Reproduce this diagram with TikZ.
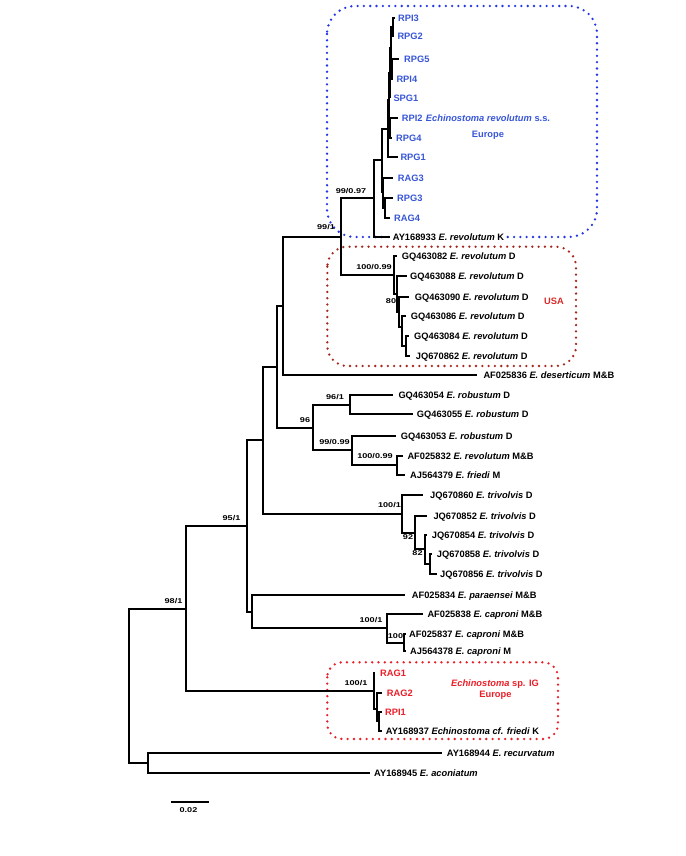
\documentclass[tikz,border=0pt]{standalone}
\usepackage{fontspec}
\setmainfont{Liberation Sans}
\definecolor{eurblue}{RGB}{55,85,215}
\definecolor{boxblue}{RGB}{35,55,230}
\definecolor{usabox}{RGB}{165,40,30}
\definecolor{usatext}{RGB}{215,40,40}
\definecolor{igred}{RGB}{235,30,40}
\newcommand\bsv[1]{\scalebox{1.3}[1]{#1}}
\newcommand\lffont{\fontsize{9.3}{11}\selectfont\bfseries}
\newcommand\bsfont{\fontsize{7}{8}\selectfont\bfseries}
\begin{document}
\begin{tikzpicture}[x=1pt,y=-1pt,
  br/.style={line width=2pt, line join=miter},
  leaf/.style={anchor=base west, inner sep=0pt, yshift=-3.3pt, font=\lffont},
  bs/.style={anchor=base, inner sep=0pt, yshift=-2.4pt, font=\bsfont},
  dotbox/.style={line width=2.6pt, dash pattern=on 0pt off 6.3pt, line cap=round},
  boxtxt/.style={anchor=base, inner sep=0pt, yshift=-3.3pt, font=\lffont}]
\useasboundingbox (0,0) rectangle (685,856);
% ---------- boxes
\draw[dotbox, boxblue, rounded corners=28pt] (327,6) rectangle (597,237) ;
\draw[dotbox, usabox, rounded corners=20pt] (327.3,246.7) rectangle (576,366);
\draw[dotbox, igred, rounded corners=15pt] (327.3,662.3) rectangle (558,739);
\node[boxtxt, eurblue] (tEur) at (488,118.3) {\textit{Echinostoma revolutum} s.s.};
\node[boxtxt, eurblue] (tEur2) at (488,134.3) {Europe};
\node[boxtxt, usatext] (tUSA) at (554,301) {USA};
\node[boxtxt, igred] (tIG) at (495,683.3) {\textit{Echinostoma} sp. IG};
\node[boxtxt, igred] (tIG2) at (495.5,694.3) {Europe};
% ---------- internal nodes
\coordinate (r) at (129,686);
\coordinate (O1) at (148,763);
\coordinate (M5) at (186,609);
\coordinate (I1) at (374,691);
\coordinate (I2) at (377,709);
\coordinate (I3) at (379,721);
\coordinate (M4) at (247,526);
\coordinate (P1) at (252,612);
\coordinate (P2) at (387,628);
\coordinate (P3) at (404,643);
\coordinate (M3) at (263,440);
\coordinate (T1) at (402,514);
\coordinate (T2) at (415,533);
\coordinate (T3) at (425,549);
\coordinate (T4) at (430,564);
\coordinate (M2) at (277,367);
\coordinate (M1) at (283,306);
\coordinate (R0) at (313,428);
\coordinate (R1) at (350,405);
\coordinate (R2) at (352,450);
\coordinate (R3) at (397,465);
\coordinate (N0) at (341,237);
\coordinate (N1) at (374,198);
\coordinate (E1) at (382,160);
\coordinate (ng) at (388,129);
\coordinate (nf) at (389,100);
\coordinate (nd) at (390,73);
\coordinate (nc) at (391,48);
\coordinate (nb) at (393,27);
\coordinate (ny) at (392,69);
\coordinate (ne) at (390,128);
\coordinate (nh) at (383,192);
\coordinate (ni) at (385,208);
\coordinate (U1) at (394,275);
\coordinate (U2) at (397,294);
\coordinate (U3) at (399,312);
\coordinate (U4) at (402,327);
\coordinate (U5) at (406,346);
% ---------- tips
\coordinate (cRPI3) at (395,18);
\coordinate (cRPG2) at (394,36);
\coordinate (cRPG5) at (399,59);
\coordinate (cRPI4) at (393,79);
\coordinate (cSPG1) at (390,98);
\coordinate (cRPI2) at (398,118);
\coordinate (cRPG4) at (392,138);
\coordinate (cRPG1) at (398,157);
\coordinate (cRAG3) at (393,178);
\coordinate (cRPG3) at (393,198);
\coordinate (cRAG4) at (390,218);
\coordinate (cAY933) at (390,237);
\coordinate (cGQ082) at (397,256);
\coordinate (cGQ088) at (407,276);
\coordinate (cGQ090) at (409,297);
\coordinate (cGQ086) at (406,316);
\coordinate (cGQ084) at (409,336);
\coordinate (cJQ862) at (410,356);
\coordinate (cAF836) at (477,375);
\coordinate (cGQ054) at (393,395);
\coordinate (cGQ055) at (413,414);
\coordinate (cGQ053) at (396,436);
\coordinate (cAF832) at (403,456);
\coordinate (cAJ379) at (405,475);
\coordinate (cJQ860) at (423,495);
\coordinate (cJQ852) at (427,516);
\coordinate (cJQ854) at (427,535);
\coordinate (cJQ858) at (432,554);
\coordinate (cJQ856) at (437,574);
\coordinate (cAF834) at (405,595);
\coordinate (cAF838) at (423,614);
\coordinate (cAF837) at (406,634);
\coordinate (cAJ378) at (406,651);
\coordinate (cRAG1) at (375,673);
\coordinate (cRAG2) at (382,693);
\coordinate (cRPI1) at (382,712);
\coordinate (cAY937) at (382,731);
\coordinate (cAY944) at (442,753);
\coordinate (cAY945) at (370,773);
% ---------- branches
\draw[br] (r) |- (M5); \draw[br] (r) |- (O1);
\draw[br] (O1) |- (cAY944); \draw[br] (O1) |- (cAY945);
\draw[br] (M5) |- (M4); \draw[br] (M5) |- (I1);
\draw[br] (I1) |- (cRAG1); \draw[br] (I1) |- (I2);
\draw[br] (I2) |- (cRAG2); \draw[br] (I2) |- (I3);
\draw[br] (I3) |- (cRPI1); \draw[br] (I3) |- (cAY937);
\draw[br] (M4) |- (M3); \draw[br] (M4) |- (P1);
\draw[br] (P1) |- (cAF834); \draw[br] (P1) |- (P2);
\draw[br] (P2) |- (cAF838); \draw[br] (P2) |- (P3);
\draw[br] (P3) |- (cAF837); \draw[br] (P3) |- (cAJ378);
\draw[br] (M3) |- (M2); \draw[br] (M3) |- (T1);
\draw[br] (T1) |- (cJQ860); \draw[br] (T1) |- (T2);
\draw[br] (T2) |- (cJQ852); \draw[br] (T2) |- (T3);
\draw[br] (T3) |- (cJQ854); \draw[br] (T3) |- (T4);
\draw[br] (T4) |- (cJQ858); \draw[br] (T4) |- (cJQ856);
\draw[br] (M2) |- (M1); \draw[br] (M2) |- (R0);
\draw[br] (R0) |- (R1); \draw[br] (R0) |- (R2);
\draw[br] (R1) |- (cGQ054); \draw[br] (R1) |- (cGQ055);
\draw[br] (R2) |- (cGQ053); \draw[br] (R2) |- (R3);
\draw[br] (R3) |- (cAF832); \draw[br] (R3) |- (cAJ379);
\draw[br] (M1) |- (N0); \draw[br] (M1) |- (cAF836);
\draw[br] (N0) |- (N1); \draw[br] (N0) |- (U1);
\draw[br] (U1) |- (cGQ082); \draw[br] (U1) |- (U2);
\draw[br] (U2) |- (cGQ088); \draw[br] (U2) |- (U3);
\draw[br] (U3) |- (cGQ090); \draw[br] (U3) |- (U4);
\draw[br] (U4) |- (cGQ086); \draw[br] (U4) |- (U5);
\draw[br] (U5) |- (cGQ084); \draw[br] (U5) |- (cJQ862);
\draw[br] (N1) |- (E1); \draw[br] (N1) |- (cAY933);
\draw[br] (E1) |- (ng); \draw[br] (E1) |- (nh);
\draw[br] (ng) |- (nf); \draw[br] (ng) |- (cRPG1);
\draw[br] (nf) |- (nd); \draw[br] (nf) |- (ne);
\draw[br] (nd) |- (nc); \draw[br] (nd) |- (cSPG1);
\draw[br] (nc) |- (nb); \draw[br] (nc) |- (ny);
\draw[br] (nb) |- (cRPI3); \draw[br] (nb) |- (cRPG2);
\draw[br] (ny) |- (cRPG5); \draw[br] (ny) |- (cRPI4);
\draw[br] (ne) |- (cRPI2); \draw[br] (ne) |- (cRPG4);
\draw[br] (nh) |- (cRAG3); \draw[br] (nh) |- (ni);
\draw[br] (ni) |- (cRPG3); \draw[br] (ni) |- (cRAG4);
% ---------- leaf labels
\begin{scope}[every node/.append style={leaf}]
\node[eurblue] (lRPI3) at (398,18) {RPI3};
\node[eurblue] (lRPG2) at (397.3,36) {RPG2};
\node[eurblue] (lRPG5) at (404,59) {RPG5};
\node[eurblue] (lRPI4) at (396.3,79) {RPI4};
\node[eurblue] (lSPG1) at (393.3,98) {SPG1};
\node[eurblue] (lRPI2) at (401.7,118) {RPI2};
\node[eurblue] (lRPG4) at (396,138) {RPG4};
\node[eurblue] (lRPG1) at (400.3,157) {RPG1};
\node[eurblue] (lRAG3) at (397.7,178) {RAG3};
\node[eurblue] (lRPG3) at (397,198) {RPG3};
\node[eurblue] (lRAG4) at (394,218) {RAG4};
\node[fill=white] (lAY933) at (392.7,237) {AY168933 \textit{E. revolutum} K};
\node (lGQ082) at (401.7,256) {GQ463082 \textit{E. revolutum} D};
\node (lGQ088) at (410,276) {GQ463088 \textit{E. revolutum} D};
\node (lGQ090) at (414.7,297) {GQ463090 \textit{E. revolutum} D};
\node (lGQ086) at (410.7,316) {GQ463086 \textit{E. revolutum} D};
\node (lGQ084) at (414,336) {GQ463084 \textit{E. revolutum} D};
\node (lJQ862) at (415.7,356) {JQ670862 \textit{E. revolutum} D};
\node (lAF836) at (483.3,375) {AF025836 \textit{E. deserticum} M\&B};
\node (lGQ054) at (398.3,395) {GQ463054 \textit{E. robustum} D};
\node (lGQ055) at (416.7,414) {GQ463055 \textit{E. robustum} D};
\node (lGQ053) at (400.7,436) {GQ463053 \textit{E. robustum} D};
\node (lAF832) at (407.3,456) {AF025832 \textit{E. revolutum} M\&B};
\node (lAJ379) at (410,475) {AJ564379 \textit{E. friedi} M};
\node (lJQ860) at (430,495) {JQ670860 \textit{E. trivolvis} D};
\node (lJQ852) at (433.3,516) {JQ670852 \textit{E. trivolvis} D};
\node (lJQ854) at (431.7,535) {JQ670854 \textit{E. trivolvis} D};
\node (lJQ858) at (436.7,554) {JQ670858 \textit{E. trivolvis} D};
\node (lJQ856) at (440,574) {JQ670856 \textit{E. trivolvis} D};
\node (lAF834) at (411.7,595) {AF025834 \textit{E. paraensei} M\&B};
\node (lAF838) at (427.3,614) {AF025838 \textit{E. caproni} M\&B};
\node (lAF837) at (409,634) {AF025837 \textit{E. caproni} M\&B};
\node (lAJ378) at (410,651) {AJ564378 \textit{E. caproni} M};
\node[igred] (lRAG1) at (380,673) {RAG1};
\node[igred] (lRAG2) at (386.7,693) {RAG2};
\node[igred] (lRPI1) at (385,712) {RPI1};
\node (lAY937) at (385.7,731) {AY168937 \textit{Echinostoma cf. friedi} K};
\node (lAY944) at (446.7,753) {AY168944 \textit{E. recurvatum}};
\node (lAY945) at (374,773) {AY168945 \textit{E. aconiatum}};
\end{scope}
% ---------- support values
\begin{scope}[every node/.append style={bs}]
\node (bN0) at (326,227.3) {\bsv{99/1}};
\node (bN1) at (351,190.7) {\bsv{99/0.97}};
\node (bU1) at (374,266.7) {\bsv{100/0.99}};
\node (bU3) at (391,301) {\bsv{80}};
\node (bR1) at (335,396.7) {\bsv{96/1}};
\node (bR0) at (305,420) {\bsv{96}};
\node (bR2) at (334.5,441.7) {\bsv{99/0.99}};
\node (bR3) at (375,456) {\bsv{100/0.99}};
\node (bT1) at (389.5,505) {\bsv{100/1}};
\node (bT2) at (408,536.7) {\bsv{92}};
\node (bT4) at (417.5,553.3) {\bsv{82}};
\node (bM4) at (231.5,518.3) {\bsv{95/1}};
\node (bP2) at (371,620) {\bsv{100/1}};
\node (bP3) at (395.5,636) {\bsv{100}};
\node (bM5) at (173.5,600.7) {\bsv{98/1}};
\node (bI1) at (356,683.3) {\bsv{100/1}};
\node (sbl) at (188.5,810) {\bsv{0.02}};
\end{scope}
% ---------- scale bar
\coordinate (sb1) at (171,802);
\coordinate (sb2) at (209,802);
\draw[br] (sb1) -- (sb2);
\end{tikzpicture}
\end{document}
